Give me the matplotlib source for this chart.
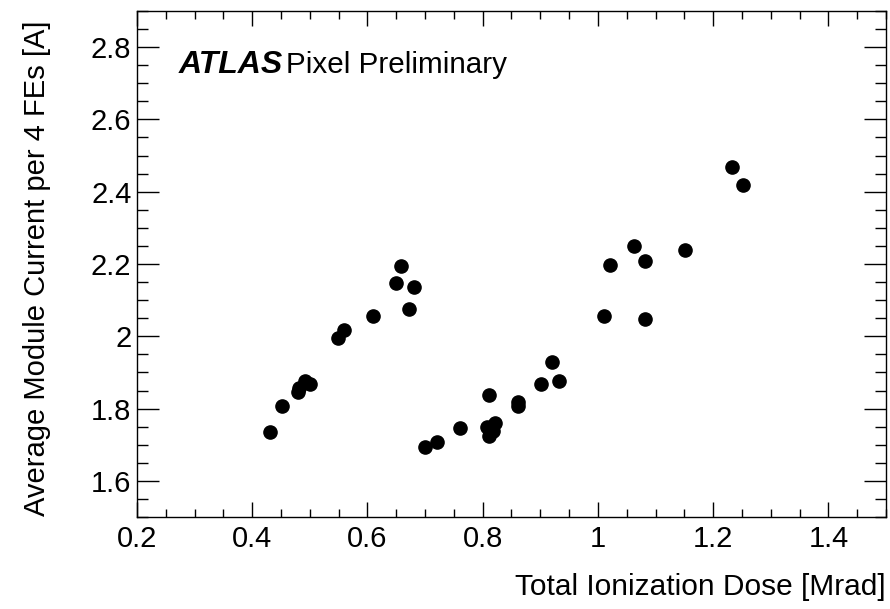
import matplotlib.pyplot as plt
from matplotlib.ticker import MultipleLocator

plt.rcParams['font.family'] = ['Liberation Sans', 'DejaVu Sans']

# dose [Mrad] and average module current [A]
dose = [0.431, 0.452, 0.479, 0.481, 0.492, 0.500, 0.549, 0.560, 0.610,
        0.650, 0.659, 0.672, 0.681,
        0.700, 0.721, 0.761, 0.811, 0.808, 0.811, 0.818, 0.821,
        0.861, 0.861, 0.901, 0.920, 0.932,
        1.010, 1.021, 1.062, 1.081, 1.081, 1.151, 1.232, 1.251]
current = [1.736, 1.808, 1.847, 1.858, 1.877, 1.868, 1.995, 2.018, 2.057,
           2.147, 2.195, 2.076, 2.136,
           1.695, 1.707, 1.747, 1.838, 1.750, 1.724, 1.737, 1.760,
           1.818, 1.806, 1.868, 1.929, 1.876,
           2.057, 2.196, 2.249, 2.207, 2.049, 2.238, 2.469, 2.419]


def tick_fmt(v, pos):
    s = '%.1f' % v
    return s[:-2] if s.endswith('.0') else s


fig = plt.figure(figsize=(8.9, 6.09), dpi=100)
ax = fig.add_axes([0.1539, 0.151, 0.8416, 0.831])

ax.plot(dose, current, 'o', color='black', markersize=9.5, linestyle='none')

ax.set_xlim(0.2, 1.5)
ax.set_ylim(1.5, 2.9)
ax.xaxis.set_major_locator(MultipleLocator(0.2))
ax.xaxis.set_minor_locator(MultipleLocator(0.05))
ax.yaxis.set_major_locator(MultipleLocator(0.2))
ax.yaxis.set_minor_locator(MultipleLocator(0.05))
ax.xaxis.set_major_formatter(plt.FuncFormatter(tick_fmt))
ax.yaxis.set_major_formatter(plt.FuncFormatter(tick_fmt))

ax.tick_params(axis='both', which='both', direction='in', top=True, right=True,
               labelsize=21, width=1)
ax.tick_params(axis='x', which='major', length=11, pad=6)
ax.tick_params(axis='x', which='minor', length=5.5)
ax.tick_params(axis='y', which='major', length=16, pad=4)
ax.tick_params(axis='y', which='minor', length=8)
for sp in ax.spines.values():
    sp.set_linewidth(1)

ax.set_xlabel('Total Ionization Dose [Mrad]', fontsize=21.5, loc='right')
ax.xaxis.set_label_coords(1.0, -0.11)
ax.set_ylabel('Average Module Current per 4 FEs [A]', fontsize=21, loc='top')
ax.yaxis.set_label_coords(-0.115, 0.982)

ax.text(0.055, 0.893, 'ATLAS', transform=ax.transAxes, fontsize=23,
        fontweight='bold', fontstyle='italic', va='center')
ax.text(0.199, 0.893, 'Pixel Preliminary', transform=ax.transAxes, fontsize=21.3,
        va='center')

fig.savefig('out.png', dpi=100)
